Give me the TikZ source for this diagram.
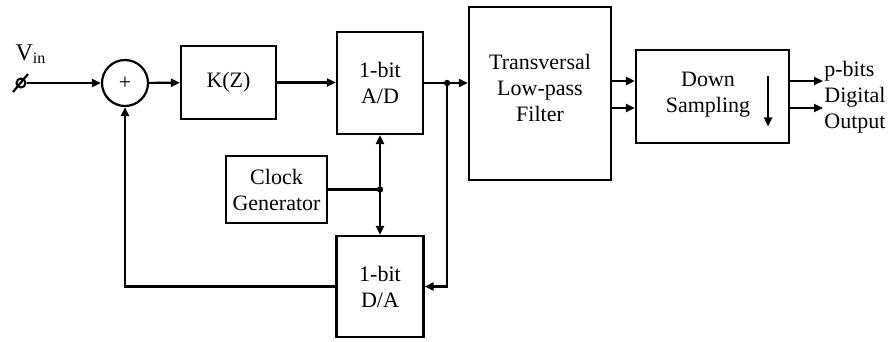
\documentclass[tikz,border=0pt]{standalone}
\usepackage{fontspec}
\setmainfont{Liberation Serif}
\usetikzlibrary{arrows.meta, positioning, calc}

\begin{document}
\begin{tikzpicture}[x=0.5pt,y=-0.5pt,
	blk/.style={draw,line width=1.1pt,align=center,inner sep=0pt,font=\fontsize{11}{13}\selectfont},
	adder/.style={draw,line width=1.1pt,circle,minimum size=23pt,inner sep=0pt,font=\fontsize{11}{13}\selectfont},
	jdot/.style={circle,fill,inner sep=0pt,minimum size=3.2pt},
	wire/.style={line width=1.1pt},
	arr/.style={wire,-{Triangle[length=4.5pt,width=4pt]}}]
\useasboundingbox (0,0) rectangle (888,342);
% input terminal and summing point
\node[draw,line width=1pt,circle,minimum size=4.5pt,inner sep=0pt] (vin) at (21,83) {};
\node[font=\fontsize{12}{14}\selectfont] (vinlab) at (31,54) {V\textsubscript{in}};
\node[adder] (sum) at (125,83) {+};
\node[blk,minimum width=47.5pt,minimum height=36.5pt] (kz) at (228.5,82.5) {K(Z)};
\node[blk,minimum width=43pt,minimum height=51pt] (ad) at (380,83) {1-bit\\A/D};
\node[blk,minimum width=71pt,minimum height=86.5pt] (filter) at (540,93.5) {};
\node[font=\fontsize{11}{13}\selectfont,align=center] (filtxt) at (540,88) {Transversal\\Low-pass\\Filter};
\node[blk,minimum width=76.5pt,minimum height=46.5pt] (ds) at (712.5,96.5) {};
\node[font=\fontsize{11}{13}\selectfont,align=center] (dstxt) at (708,95) {Down\\Sampling};
\node[blk,minimum width=50.5pt,minimum height=33.5pt] (clock) at (276.5,189.5) {Clock\\Generator};
\node[blk,minimum width=43.5pt,minimum height=50.5pt] (da) at (380,286.5) {1-bit\\D/A};
\node[font=\fontsize{11}{13}\selectfont,align=left,anchor=west,inner sep=0.5pt] (out) at (823,97) {p-bits\\Digital\\Output};
% junctions
\coordinate (aj) at ($(ad.east)+(23,0)$);
\coordinate (cj) at (ad.south |- clock.east);
\coordinate (fo1) at ($(filter.east)+(0,-12.5)$);
\coordinate (fo2) at ($(filter.east)+(0,14.5)$);
\coordinate (dtop) at ($(ds.east)+(-22,-20)$);
\coordinate (dbot) at ($(ds.east)+(-22,30)$);
\node[jdot] at (aj) {};
\node[jdot] at (cj) {};
% connections
\draw[wire] ($(vin)+(-8,9)$) -- ($(vin)+(7,-9)$);
\draw[arr] (vin) -- (sum);
\draw[arr] (sum) -- (kz);
\draw[arr] (kz.east) -- (kz.east -| ad.west);
\draw[arr] (ad.east) -- (ad.east -| filter.west);
\draw[arr] (aj) |- (da.east);
\draw[wire] (clock.east) -- (cj);
\draw[arr] (cj) -- (ad.south);
\draw[arr] (cj) -- (da.north);
\draw[arr] (da.west) -| (sum.south);
\draw[arr] (fo1) -- (fo1 -| ds.west);
\draw[arr] (fo2) -- (fo2 -| ds.west);
\draw[arr] (fo1 -| ds.east) -- (fo1 -| out.west);
\draw[arr] (fo2 -| ds.east) -- (fo2 -| out.west);
\draw[arr] (dtop) -- (dbot);
\end{tikzpicture}
\end{document}
